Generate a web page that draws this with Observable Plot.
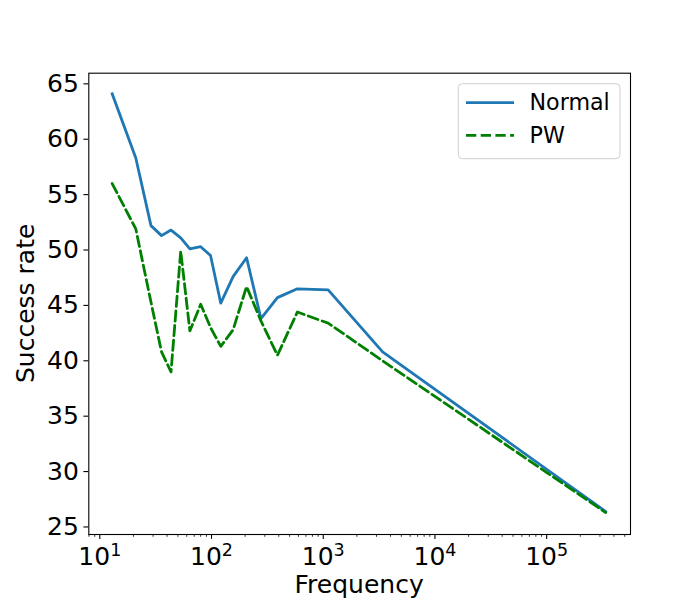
<!DOCTYPE html>
<html><head><meta charset="utf-8">
<script src="https://cdn.jsdelivr.net/npm/d3@7"></script>
<script src="https://cdn.jsdelivr.net/npm/@observablehq/plot@0.6"></script>
<style>body{margin:0;background:#fff} svg{display:block}</style>
</head><body><div id="chart"></div>
<script>
const frequency = [12.9, 21, 28.7, 35.7, 43.4, 53, 64, 80, 98, 121, 156, 206, 277, 389, 587, 1107, 3400, 337000];
const normalRate = [64.1, 58.3, 52.2, 51.3, 51.8, 51.1, 50.1, 50.3, 49.5, 45.2, 47.6, 49.3, 43.8, 45.7, 46.5, 46.4, 40.8, 26.4];
const pwRate = [56.0, 51.9, 45.3, 40.8, 39.0, 49.9, 42.7, 45.1, 43.0, 41.3, 42.8, 46.7, 43.6, 40.5, 44.4, 43.4, 40.0, 26.3];
const seriesNames = ["Normal", "PW"];
const seriesColors = ["#1f77b4", "green"];
const xMajorTicks = [10, 100, 1000, 10000, 100000];
const xMajorExponents = ["1", "2", "3", "4", "5"];
const yTicks = [25, 30, 35, 40, 45, 50, 55, 60, 65];
const xLabel = "Frequency";
const yLabel = "Success rate";

const xDomain = [7.97, 563000];
const yDomain = [24.32, 65.96];

const minorTicks = [];
for (let k = 0; k <= 5; k++) for (let m = 2; m <= 9; m++) {
  const v = m * Math.pow(10, k);
  if (v >= xDomain[0] && v <= xDomain[1]) minorTicks.push(v);
}

const normalRows = frequency.map((f, i) => ({f, rate: normalRate[i]}));
const pwRows = frequency.map((f, i) => ({f, rate: pwRate[i]}));

const font = "DejaVu Sans";
const FS = 25;
const LFS = 22.2;
const LW = 2.8;
const DASH = "10.3,4.4";
const ML = 88.3, MR = 70, MT = 72.7, MB = 66;

const plot = Plot.plot({
  width: 700, height: 600,
  marginLeft: ML, marginRight: MR, marginTop: MT, marginBottom: MB,
  style: {fontFamily: font, fontSize: FS + "px", color: "#000", background: "#fff", overflow: "visible"},
  x: {type: "log", domain: xDomain},
  y: {domain: yDomain},
  marks: [
    Plot.axisX({ticks: minorTicks, tickSize: 2.8, tickFormat: () => "", label: null, strokeWidth: 0.8}),
    Plot.axisX({ticks: xMajorTicks, tickSize: 4.9, tickPadding: 7.8, label: null, fontSize: FS, strokeWidth: 1.1,
      tickFormat: d => "10^" + xMajorExponents[xMajorTicks.indexOf(d)]}),
    Plot.axisY({ticks: yTicks, tickSize: 4.9, tickPadding: 5, label: null, fontSize: FS, strokeWidth: 1.1,
      tickFormat: d => String(d)}),
    Plot.line(normalRows, {x: "f", y: "rate", stroke: seriesColors[0], strokeWidth: LW, strokeLinejoin: "round", strokeLinecap: "square"}),
    Plot.line(pwRows, {x: "f", y: "rate", stroke: seriesColors[1], strokeWidth: LW, strokeLinejoin: "round", strokeDasharray: DASH}),
    Plot.frame({stroke: "#000", strokeWidth: 1.1})
  ]
});
document.getElementById("chart").appendChild(plot);

const svg = d3.select(plot);
// superscript tick labels
svg.selectAll("text").each(function() {
  const t = d3.select(this);
  const s = t.text();
  if (/^10\^\d$/.test(s)) {
    const e = s.split("^")[1];
    t.text("10");
    t.append("tspan").attr("dy", "-9px").attr("font-size", "17.5px").text(e);
  }
});

// axis labels
svg.append("text").attr("x", (ML + 700 - MR) / 2).attr("y", 593)
  .attr("text-anchor", "middle").attr("font-family", font).attr("font-size", FS).attr("fill", "#000").text(xLabel);
svg.append("text").attr("transform", `translate(33.6,${(MT + 600 - MB) / 2}) rotate(-90)`)
  .attr("text-anchor", "middle").attr("font-family", font).attr("font-size", FS).attr("fill", "#000").text(yLabel);

// legend
const lg = svg.append("g");
lg.append("rect").attr("x", 458.3).attr("y", 83.7).attr("width", 161.7).attr("height", 75).attr("rx", 4)
  .attr("fill", "#fff").attr("fill-opacity", 0.8).attr("stroke", "#d0d0d0").attr("stroke-width", 1);
const rowsY = [102.7, 135.3];
const textY = [109.5, 143];
seriesNames.forEach((name, i) => {
  lg.append("line").attr("x1", 466).attr("x2", 514).attr("y1", rowsY[i]).attr("y2", rowsY[i])
    .attr("stroke", seriesColors[i]).attr("stroke-width", LW)
    .attr("stroke-dasharray", i === 1 ? DASH : null);
  lg.append("text").attr("x", 529.5).attr("y", textY[i]).attr("text-anchor", "start")
    .attr("font-family", font).attr("font-size", LFS).attr("fill", "#000").text(name);
});
</script>
</body></html>
